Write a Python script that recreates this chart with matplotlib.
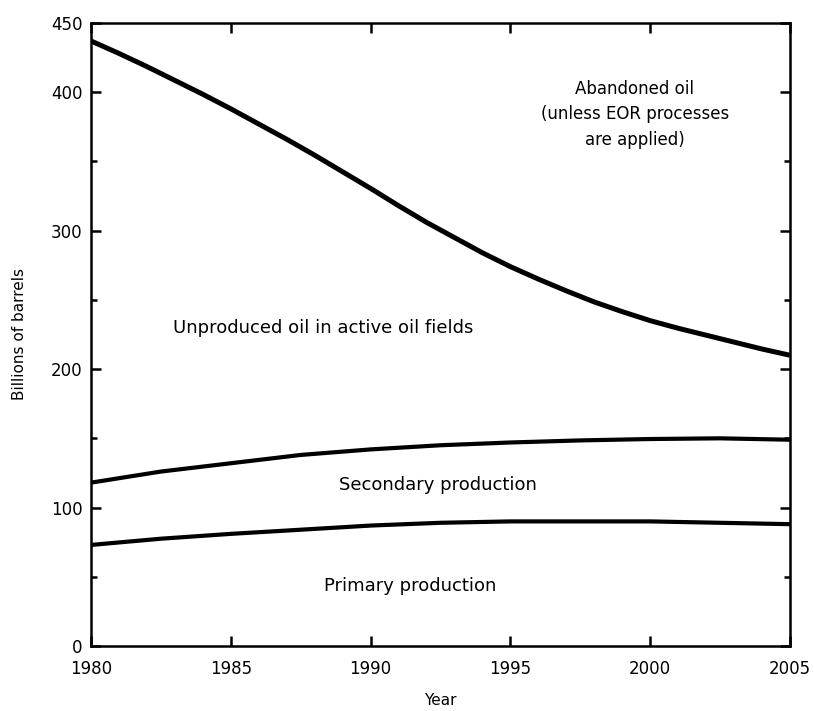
import matplotlib.pyplot as plt
from matplotlib.ticker import MultipleLocator

plt.rcParams['font.family'] = ['DejaVu Sans']

# values (billions of barrels)
years = [1980, 1981, 1982, 1983, 1984, 1985, 1986, 1987, 1988, 1989, 1990,
         1991, 1992, 1993, 1994, 1995, 1996, 1997, 1998, 1999, 2000,
         2001, 2002, 2003, 2004, 2005]
unproduced = [437, 428, 418.5, 408.5, 398.5, 388, 377, 366, 354.5, 342.5, 330.5,
              318, 306, 295, 284, 274, 265, 256.5, 248.5, 241.5, 235,
              229.5, 224.5, 219.5, 214.5, 210]
sec_years = [1980, 1982.5, 1985, 1987.5, 1990, 1992.5, 1995, 1997.5, 2000, 2002.5, 2005]
secondary = [118, 126, 132, 138, 142, 145, 147, 148.5, 149.5, 150, 149]
primary = [73, 77.5, 81, 84, 87, 89, 90, 90, 90, 89, 88]

fig = plt.figure(figsize=(8.14, 7.11), dpi=100)
ax = fig.add_axes([0.1118, 0.0914, 0.8587, 0.8763])

ax.plot(years, unproduced, 'k-', linewidth=3.6, solid_capstyle='butt')
ax.plot(sec_years, secondary, 'k-', linewidth=3.0, solid_capstyle='butt')
ax.plot(sec_years, primary, 'k-', linewidth=3.0, solid_capstyle='butt')

ax.set_xlim(1980, 2005)
ax.set_ylim(0, 450)
ax.set_xticks([1980, 1985, 1990, 1995, 2000, 2005])
ax.set_yticks([0, 100, 200, 300, 400, 450])
ax.yaxis.set_minor_locator(MultipleLocator(50))

for s in ax.spines.values():
    s.set_linewidth(1.8)
ax.tick_params(which='both', direction='in', top=True, right=True,
               labelsize=12, width=1.8)
ax.tick_params(axis='x', which='major', length=7, pad=10)
ax.tick_params(axis='y', which='major', length=7, pad=6)
ax.tick_params(which='minor', length=4)

ax.text(1999.45, 384, 'Abandoned oil\n(unless EOR processes\nare applied)',
        ha='center', va='center', fontsize=12, linespacing=1.55)
ax.text(1988.3, 230, 'Unproduced oil in active oil fields',
        ha='center', va='center', fontsize=13)
ax.text(1992.4, 116, 'Secondary production',
        ha='center', va='center', fontsize=13)
ax.text(1991.4, 43, 'Primary production',
        ha='center', va='center', fontsize=13)

ax.set_xlabel('Year', fontsize=11, labelpad=11)
ax.set_ylabel('Billions of barrels', fontsize=11, labelpad=17)

plt.savefig('out.png', dpi=100)
